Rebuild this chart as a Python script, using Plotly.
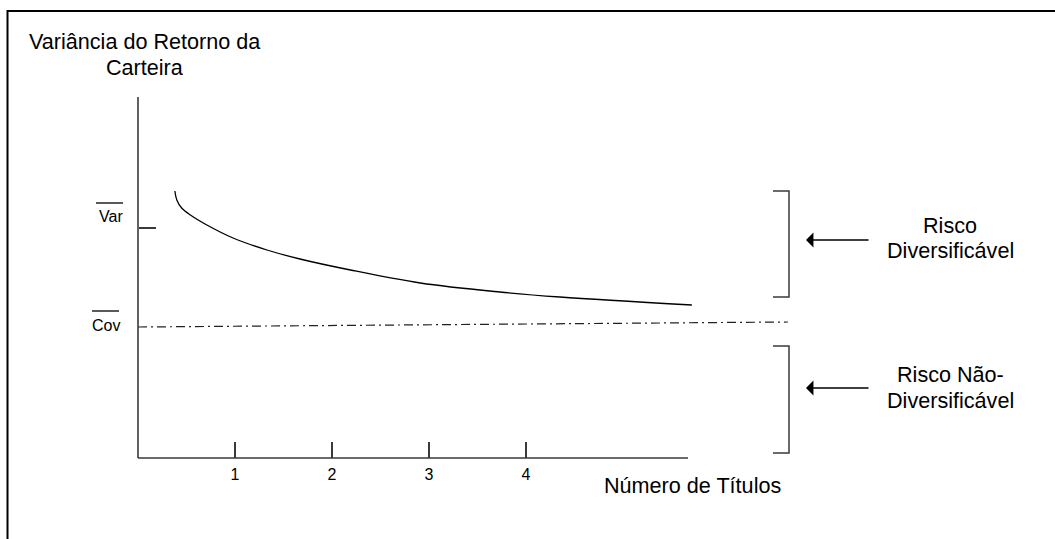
import plotly.graph_objects as go

# ---- data ----
numero_titulos_ticks = [1, 2, 3, 4]
numero_titulos_labels = ["1", "2", "3", "4"]

curve_n = [0.38, 0.40, 0.45, 0.54, 0.71, 0.98, 1.33, 1.67, 2.19, 2.91, 3.73, 4.35, 5.71]
curve_var = [2.67, 2.58, 2.50, 2.43, 2.33, 2.20, 2.08, 1.99, 1.88, 1.75, 1.66, 1.61, 1.53]

cov_n = [0.0, 6.70]
cov_level = [1.31, 1.36]

var_bar = 2.30
cov_bar = 1.31

# ---- layout helpers (pixel mapping of the 1055x539 canvas) ----
W, H = 1055, 539
X0PX, XUNIT = 138.0, 97.0     # px of n=0, px per title
Y0PX, YUNIT = 458.0, 100.0    # px of variance 0, px per unit


def dx(px):
    return (px - X0PX) / XUNIT


def dy(py):
    return (Y0PX - py) / YUNIT


FONT = "Arial, Liberation Sans, sans-serif"
BIG = 21.6
SMALL = 16

fig = go.Figure()
fig.add_trace(go.Scatter(
    x=curve_n, y=curve_var, mode="lines",
    line=dict(color="black", width=1.3, shape="spline"),
    hoverinfo="skip"))
fig.add_trace(go.Scatter(
    x=cov_n, y=cov_level, mode="lines",
    line=dict(color="#222222", width=1.2, dash="9px,4px,2px,4px"),
    hoverinfo="skip"))

axis_col = "#3a3a3a"
shapes = [
    # outer frame (top and left edges)
    dict(type="line", xref="paper", yref="paper", x0=7 / W, x1=1.0,
         y0=1 - 11 / H, y1=1 - 11 / H, line=dict(color="black", width=2)),
    dict(type="line", xref="paper", yref="paper", x0=7.5 / W, x1=7.5 / W,
         y0=0, y1=1 - 10 / H, line=dict(color="black", width=2)),
    # axis lines
    dict(type="line", xref="x", yref="y", x0=0, x1=0, y0=0, y1=dy(97),
         line=dict(color=axis_col, width=1.6)),
    dict(type="line", xref="x", yref="y", x0=0, x1=dx(688), y0=0, y1=0,
         line=dict(color=axis_col, width=1.6)),
    # brackets
    dict(type="path", xref="x", yref="y",
         path=f"M {dx(773)},{dy(191)} L {dx(789)},{dy(191)} L {dx(789)},{dy(297)} L {dx(773)},{dy(297)}",
         line=dict(color=axis_col, width=1.5)),
    dict(type="path", xref="x", yref="y",
         path=f"M {dx(773)},{dy(346)} L {dx(789)},{dy(346)} L {dx(789)},{dy(453)} L {dx(773)},{dy(453)}",
         line=dict(color=axis_col, width=1.5)),
    # overlines on Var and Cov
    dict(type="line", xref="x", yref="y", x0=dx(96), x1=dx(123), y0=dy(203), y1=dy(203),
         line=dict(color="black", width=1.3)),
    dict(type="line", xref="x", yref="y", x0=dx(92), x1=dx(119), y0=dy(311), y1=dy(311),
         line=dict(color="black", width=1.3)),
]

annotations = []


def text(t, px, py, size):
    annotations.append(dict(
        text=t, x=dx(px), y=dy(py), xref="x", yref="y", showarrow=False,
        xanchor="center", yanchor="middle",
        font=dict(family=FONT, size=size, color="black")))


text("Variância do Retorno da", 145, 41, BIG)
text("Carteira", 145, 67.5, BIG)
text("Var", 110.5, 216.5, SMALL)
text("Cov", 106, 325, SMALL)
text("Número de Títulos", 692, 485, BIG)
text("Risco", 950, 225.5, BIG)
text("Diversificável", 950, 250.5, BIG)
text("Risco Não-", 950, 374, BIG)
text("Diversificável", 950, 400, BIG)

for ya in (240, 388):
    annotations.append(dict(
        text="", x=dx(806), y=dy(ya), ax=dx(870), ay=dy(ya),
        xref="x", yref="y", axref="x", ayref="y", showarrow=True,
        arrowhead=1, arrowsize=1.9, arrowwidth=1.3, arrowcolor="black"))

fig.update_layout(
    width=W, height=H, margin=dict(l=0, r=0, t=0, b=0),
    paper_bgcolor="white", plot_bgcolor="white", showlegend=False,
    font=dict(family=FONT, color="black"),
    xaxis=dict(range=[dx(0), dx(W)], showgrid=False, zeroline=False, showline=False,
               tickmode="array", tickvals=numero_titulos_ticks, ticktext=numero_titulos_labels,
               ticks="inside", ticklen=16, tickwidth=1.5, tickcolor=axis_col,
               anchor="free", position=(H - Y0PX) / H,
               tickfont=dict(family=FONT, size=SMALL, color="black"), ticklabelstandoff=5,
               fixedrange=True),
    yaxis=dict(range=[dy(H), dy(0)], showgrid=False, zeroline=False, showline=False,
               tickmode="array", tickvals=[var_bar], showticklabels=False,
               ticks="inside", ticklen=17, tickwidth=1.5, tickcolor=axis_col,
               anchor="free", position=X0PX / W, fixedrange=True),
    shapes=shapes, annotations=annotations,
)

fig.write_html("out.html", config={"displayModeBar": False},
               post_script="document.body.style.margin='0';document.body.style.overflow='hidden';")
